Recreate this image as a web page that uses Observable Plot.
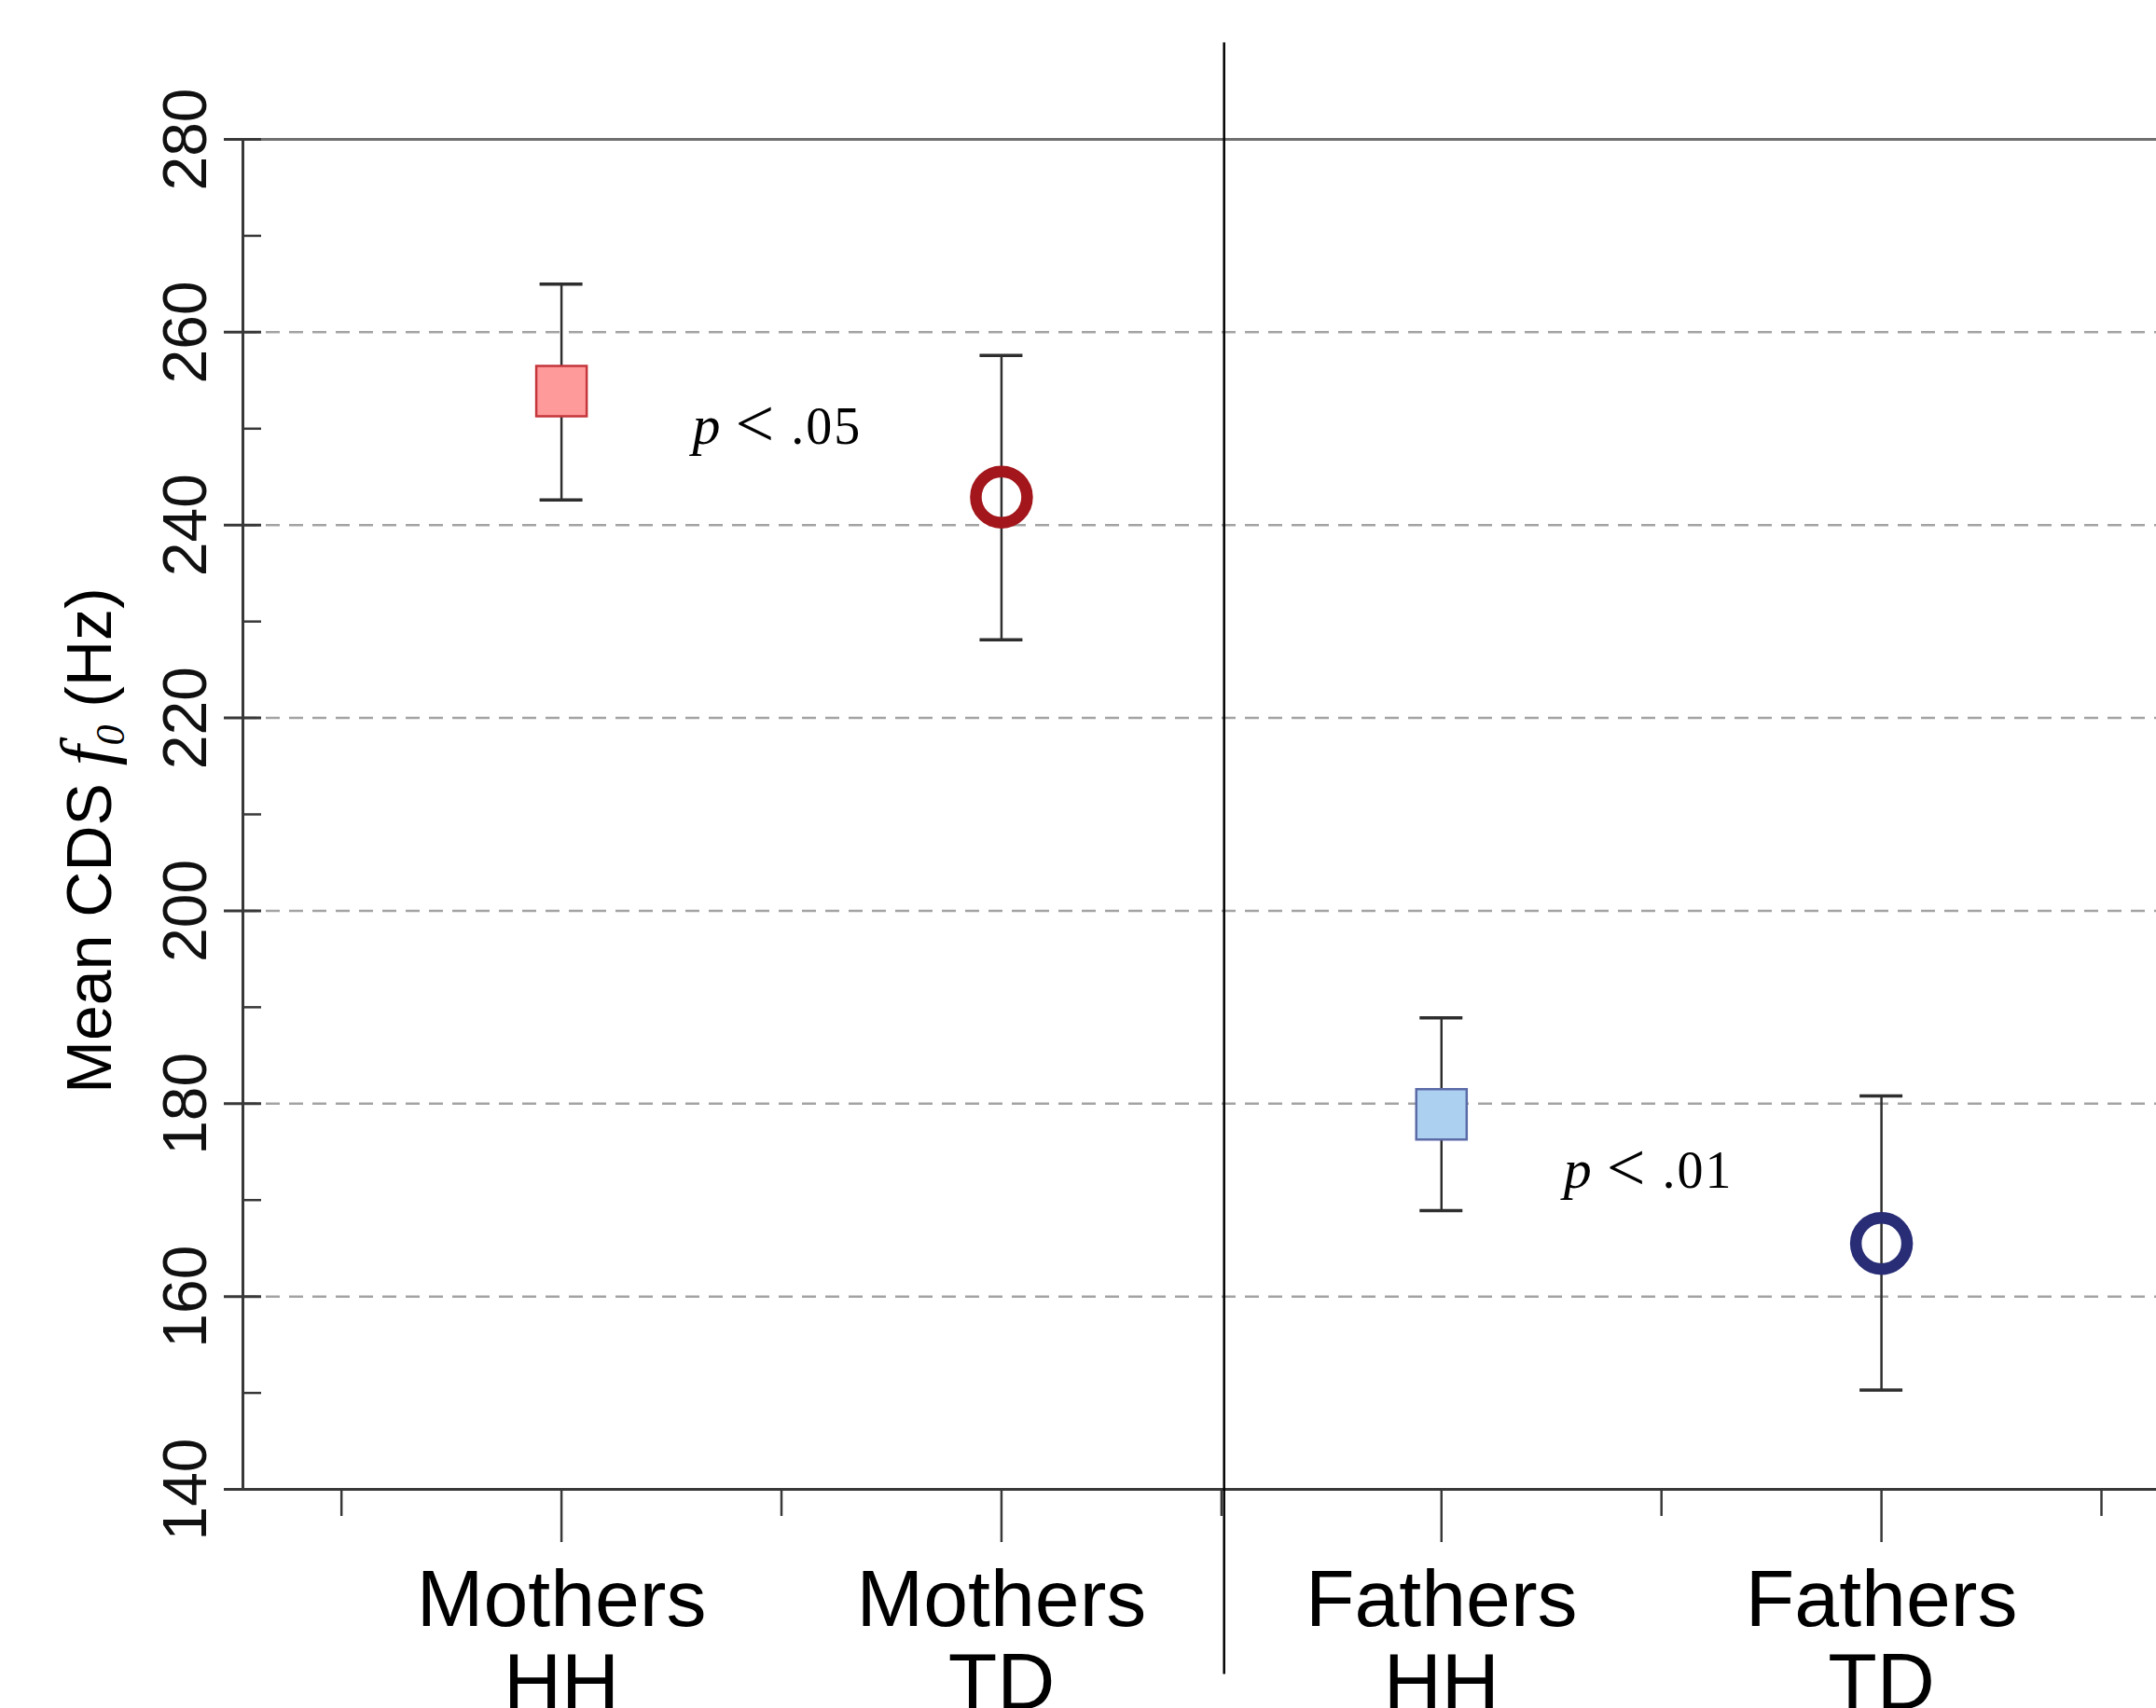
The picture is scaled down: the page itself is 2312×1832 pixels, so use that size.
<!DOCTYPE html>
<html>
<head>
<meta charset="utf-8">
<script src="https://cdn.jsdelivr.net/npm/d3@7"></script>
<script src="https://cdn.jsdelivr.net/npm/@observablehq/plot@0.6"></script>
<style>
  html, body { margin: 0; padding: 0; background: #fff; overflow: hidden; }
  #chart svg { display: block; }
</style>
</head>
<body>
<div id="chart"></div>
<script>
// ---- data ----
const groups = ["Mothers HH", "Mothers TD", "Fathers HH", "Fathers TD"];
const xLabels = ["Mothers\nHH", "Mothers\nTD", "Fathers\nHH", "Fathers\nTD"];
const positions = [1, 2, 3, 4];
const means = [253.9, 242.9, 178.9, 165.5];
const lower = [242.6, 228.1, 168.9, 150.3];
const upper = [265.0, 257.6, 188.9, 180.8];
const markerShape = ["square", "ring", "square", "ring"];
const markerFill = ["#ff9a9a", "none", "#acd0ef", "none"];
const markerStroke = ["#c4363b", "#a3161b", "#5b6ba7", "#282d76"];

const yMajorTicks = [140, 160, 180, 200, 220, 240, 260, 280];
const yMinorTicks = [150, 170, 190, 210, 230, 250, 270];
const gridValues = [160, 180, 200, 220, 240, 260];
const xMinorTicks = [0.5, 1.5, 2.5, 3.5, 4.5];

const pLabels = ["p < .05", "p < .01"];
const pX = [1.49, 3.47];
const pY = [248.4, 171.3];

const separatorX = 2.506;
const separatorY = [120.8, 290.0];
const xDomain = [0.276, 4.625];
const yDomain = [140, 280];
const yTitle = "Mean CDS f0 (Hz)";

// ---- build tables ----
const data = groups.map((g, i) => ({
  group: g, pos: positions[i], mean: means[i], lo: lower[i], hi: upper[i],
  shape: markerShape[i], fill: markerFill[i], stroke: markerStroke[i]
}));
const squares = data.filter(d => d.shape === "square");
const rings = data.filter(d => d.shape === "ring");
const labelData = positions.map((p, i) => ({pos: p, label: xLabels[i]}));
const pData = pLabels.map((t, i) => ({x: pX[i], y: pY[i], text: t}));

const axisColor = "#383838";
const sans = "'Liberation Sans', Arial, Helvetica, sans-serif";
const serif = "'Liberation Serif', 'Times New Roman', serif";

const chart = Plot.plot({
  width: 2312,
  height: 1832,
  marginLeft: 260,
  marginRight: 0,
  marginTop: 149,
  marginBottom: 235,
  style: {background: "#fff", fontFamily: sans, overflow: "visible"},
  x: {type: "linear", domain: xDomain},
  y: {type: "linear", domain: yDomain},
  color: {type: "identity"},
  marks: [
    Plot.ruleY(gridValues, {stroke: "#a3a3a3", strokeWidth: 2.5, strokeDasharray: "15,10"}),
    Plot.ruleY([yDomain[1]], {stroke: "#6f6f6f", strokeWidth: 3}),
    Plot.ruleY([yDomain[0]], {stroke: axisColor, strokeWidth: 3}),
    Plot.ruleX([xDomain[0]], {stroke: axisColor, strokeWidth: 3}),
    Plot.axisY(yMajorTicks, {anchor: "left", tickSize: 40, dx: 20, stroke: axisColor, strokeWidth: 3, tickFormat: () => "", label: null}),
    Plot.axisY(yMinorTicks, {anchor: "left", tickSize: 20, dx: 20, stroke: axisColor, strokeWidth: 2.5, tickFormat: () => "", label: null}),
    Plot.axisX(positions, {anchor: "bottom", tickSize: 57, stroke: axisColor, strokeWidth: 2.5, tickFormat: () => "", label: null}),
    Plot.axisX(xMinorTicks, {anchor: "bottom", tickSize: 29, stroke: axisColor, strokeWidth: 2.5, tickFormat: () => "", label: null}),
    Plot.ruleX([separatorX], {y1: separatorY[0], y2: separatorY[1], stroke: "#000", strokeWidth: 2.5}),
    // error bars
    Plot.ruleX(data, {x: "pos", y1: "lo", y2: "hi", stroke: "#2e2e2e", strokeWidth: 2.5}),
    Plot.ruleY(data, {y: "hi", x1: "pos", x2: "pos", insetLeft: -23, insetRight: -23, stroke: "#2e2e2e", strokeWidth: 3.5}),
    Plot.ruleY(data, {y: "lo", x1: "pos", x2: "pos", insetLeft: -23, insetRight: -23, stroke: "#2e2e2e", strokeWidth: 3.5}),
    // markers
    Plot.dot(squares, {x: "pos", y: "mean", symbol: "square", r: 30.5, fill: "fill", stroke: "stroke", strokeWidth: 2.5}),
    Plot.dot(rings, {x: "pos", y: "mean", r: 27.5, fill: "none", stroke: "stroke", strokeWidth: 12.5}),
    // y tick labels
    Plot.text(yMajorTicks, {y: d => d, text: d => String(d), frameAnchor: "left", dx: -60.5, rotate: -90,
      textAnchor: "middle", lineAnchor: "middle", fontSize: 66, fill: "#111"}),
    // y title
    Plot.text([yTitle], {text: d => d, frameAnchor: "left", dx: -141.5, dy: 28, rotate: -90,
      textAnchor: "middle", lineAnchor: "bottom", fontSize: 68, fill: "#000"}),
    // x labels
    Plot.text(labelData, {x: "pos", text: "label", frameAnchor: "bottom", dy: 83, lineAnchor: "top",
      textAnchor: "middle", fontSize: 86, lineHeight: 1.035, fill: "#000"}),
    // p-value annotations
    Plot.text(pData, {x: "x", y: "y", text: "text", textAnchor: "middle", lineAnchor: "bottom",
      fontSize: 56, fontFamily: serif, fill: "#000"})
  ]
});

document.getElementById("chart").appendChild(chart);

// ---- text styling: italic p, italic f with subscript 0 ----
const NS = "http://www.w3.org/2000/svg";
function tspan(txt, attrs) {
  const t = document.createElementNS(NS, "tspan");
  t.textContent = txt;
  for (const k in attrs) t.setAttribute(k, attrs[k]);
  return t;
}
chart.querySelectorAll("text").forEach(t => {
  const s = t.textContent;
  if (pLabels.includes(s)) {
    const parts = s.split(" ");
    t.textContent = "";
    t.appendChild(tspan(parts[0], {"font-style": "italic", "font-size": "60"}));
    t.appendChild(tspan(parts[1], {"dx": "16", "font-size": "74", "dy": "3"}));
    t.appendChild(tspan(parts[2], {"dx": "18", "dy": "-3", "letter-spacing": "2"}));
  } else if (s === yTitle) {
    const i = s.indexOf("f0");
    t.textContent = "";
    t.appendChild(tspan(s.slice(0, i), {}));
    t.appendChild(tspan("f", {"font-family": serif, "font-style": "italic", "font-size": "78"}));
    t.appendChild(tspan("0", {"font-family": serif, "font-style": "italic", "font-size": "44", "dy": "14"}));
    t.appendChild(tspan(s.slice(i + 2), {"dy": "-14"}));
  }
});
</script>
</body>
</html>
